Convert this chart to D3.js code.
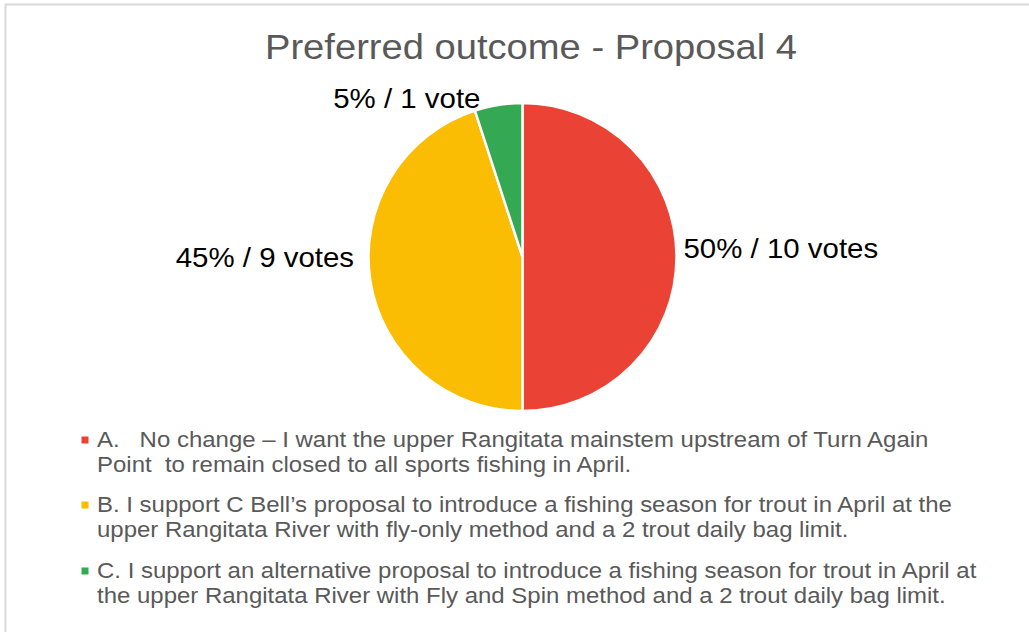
<!DOCTYPE html>
<html>
<head>
<meta charset="utf-8">
<script src="https://cdn.jsdelivr.net/npm/d3@7"></script>
<style>
  body { margin: 0; background: #fff; }
  svg { display: block; font-family: "Liberation Sans", Arial, sans-serif; }
</style>
</head>
<body>
<svg id="chart" width="1029" height="632"></svg>
<script>
'use strict';

var categories = ['A', 'B', 'C'];
var votes = [10, 9, 1];
var sliceLabels = ['50% / 10 votes', '45% / 9 votes', '5% / 1 vote'];
var colors = ['#EA4335', '#FBBC04', '#34A853'];
var legendLines = [
    ['A.   No change \u2013 I want the upper Rangitata mainstem upstream of Turn Again',
     'Point  to remain closed to all sports fishing in April.'],
    ['B. I support C Bell\u2019s proposal to introduce a fishing season for trout in April at the',
     'upper Rangitata River with fly-only method and a 2 trout daily bag limit.'],
    ['C. I support an alternative proposal to introduce a fishing season for trout in April at',
     'the upper Rangitata River with Fly and Spin method and a 2 trout daily bag limit.']
];

// the source picture is a little stretched sideways
var stretch = 1.09;

var svg = d3.select('#chart');

// chart frame, only top and left edges are visible in the shot
svg.append('rect')
    .attr('x', 5.5).attr('y', 4.5)
    .attr('width', 1040).attr('height', 650)
    .attr('fill', 'none')
    .attr('stroke', '#d9d9d9')
    .attr('stroke-width', 2);

function stretchedText(parent, x, y, anchor) {
    return parent.append('text')
        .attr('transform', 'translate(' + x + ',' + y + ') scale(' + stretch + ',1)')
        .attr('text-anchor', anchor);
}

stretchedText(svg, 531, 59, 'middle')
    .attr('font-size', 35)
    .attr('fill', '#595959')
    .text('Preferred outcome - Proposal 4');

var cx = 522.5, cy = 257, radius = 154;

var pie = d3.pie().sort(null).value(function(d) { return d; });
var arc = d3.arc().innerRadius(0).outerRadius(radius);
var color = d3.scaleOrdinal().domain(categories).range(colors);

var arcs = pie(votes);

var g = svg.append('g').attr('transform', 'translate(' + cx + ',' + cy + ')');

g.selectAll('path')
    .data(arcs)
    .enter().append('path')
    .attr('d', arc)
    .attr('fill', function(d, i) { return color(categories[i]); })
    .attr('stroke', '#fff')
    .attr('stroke-width', 2.5);

// outside labels, nudged from the mid-angle point like the original
var labelArc = d3.arc().innerRadius(radius + 10).outerRadius(radius + 10);
var labelNudge = [[-3, 1, 'start'], [-6.5, -15.5, 'end'], [-90, 13, 'middle']];

arcs.forEach(function(d, i) {
    var p = labelArc.centroid(d);
    var n = labelNudge[i];
    stretchedText(g, p[0] + n[0], p[1] + n[1], n[2])
        .attr('font-size', 27)
        .attr('fill', '#000')
        .text(sliceLabels[i]);
});

// legend
var legend = svg.append('g').attr('class', 'legend');
var legendBase = [447, 512, 578];
var lineGap = 25;

legendLines.forEach(function(lines, i) {
    legend.append('rect')
        .attr('x', 81.5).attr('y', legendBase[i] - 10.5)
        .attr('width', 7).attr('height', 7)
        .attr('fill', colors[i]);
    lines.forEach(function(t, j) {
        stretchedText(legend, 97, legendBase[i] + j * lineGap, 'start')
            .attr('font-size', 22)
            .attr('fill', '#595959')
            .style('white-space', 'pre')
            .text(t);
    });
});
</script>
</body>
</html>
